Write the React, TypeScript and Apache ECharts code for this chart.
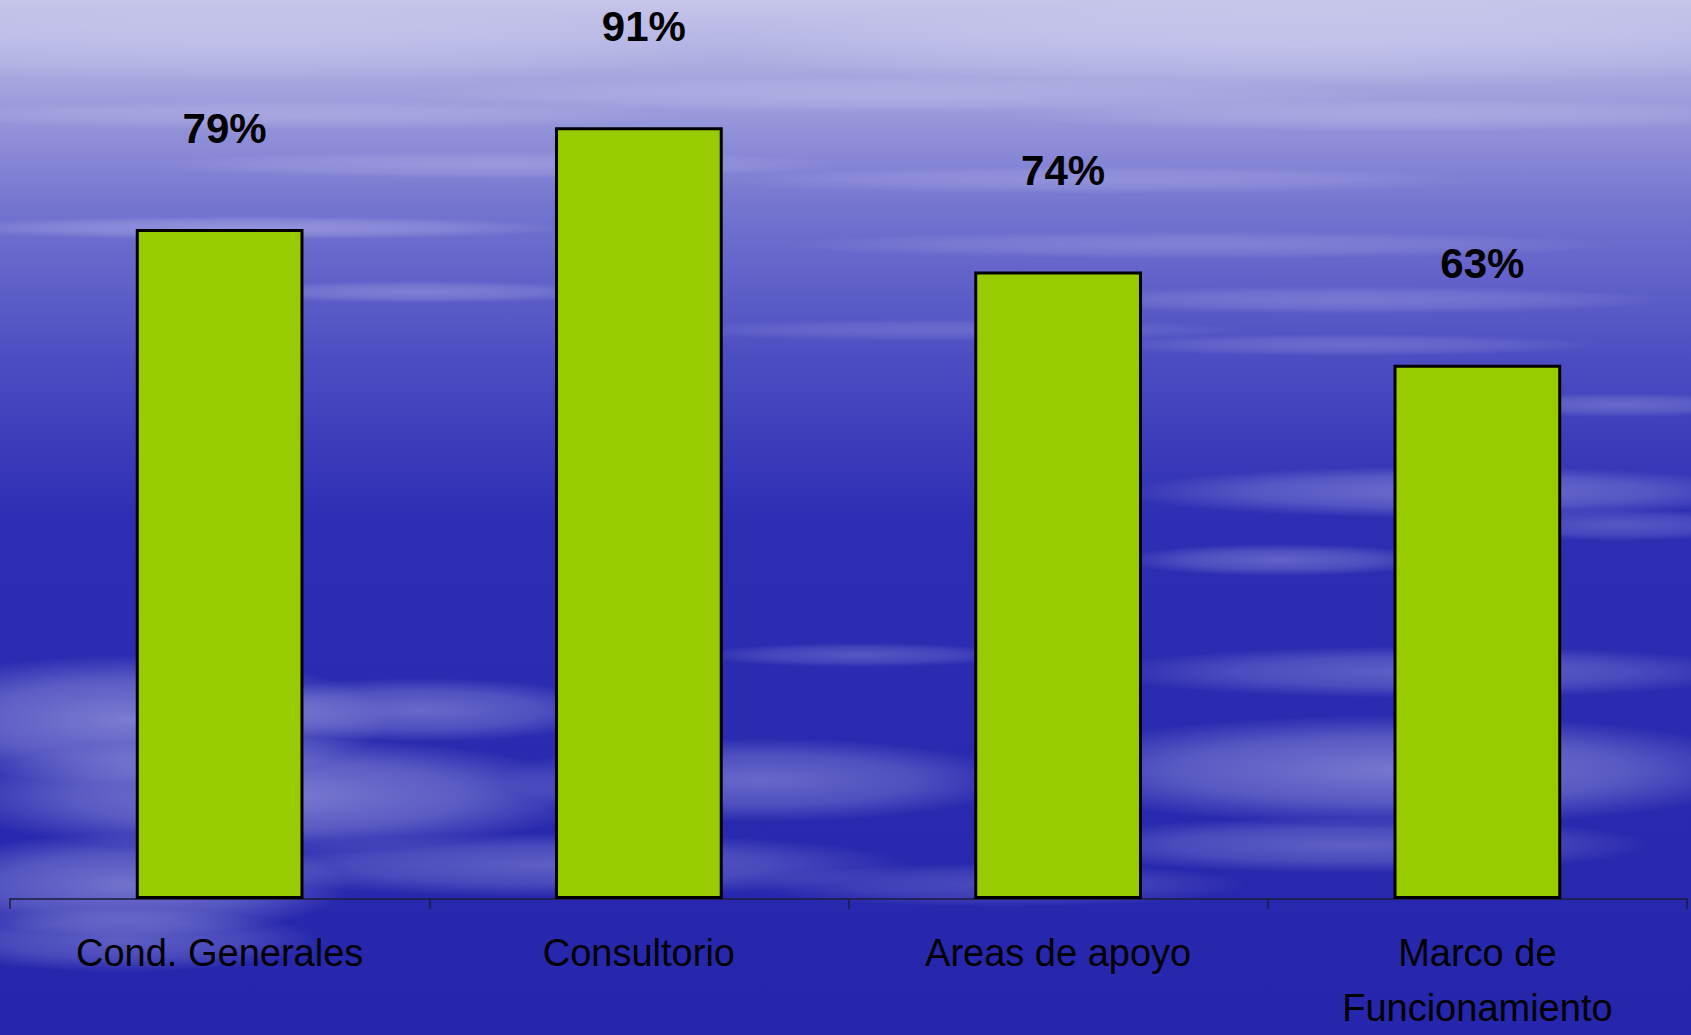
import React, { useEffect, useRef } from "react";
import * as echarts from "echarts";

const categories = ["Cond. Generales", "Consultorio", "Areas de apoyo", "Marco de\nFuncionamiento"];
const percentValues = [79, 91, 74, 63];
const yMin = 0;
const yMax = 100;

// decorative cloud streaks of the slide background: [cx, cy, rx, ry, alpha]
const cloudBlobs: number[][] = [
  [250, 45, 500, 40, 0.2],
  [1300, 45, 600, 45, 0.25],
  [900, 95, 500, 18, 0.2],
  [300, 115, 400, 14, 0.18],
  [1400, 115, 400, 16, 0.2],
  [500, 165, 350, 14, 0.2],
  [1100, 180, 380, 14, 0.18],
  [250, 228, 320, 12, 0.3],
  [1200, 245, 420, 14, 0.18],
  [420, 292, 200, 11, 0.24],
  [1350, 300, 320, 14, 0.2],
  [950, 330, 300, 11, 0.15],
  [1350, 345, 250, 11, 0.18],
  [1620, 405, 150, 12, 0.22],
  [1450, 492, 330, 26, 0.32],
  [1280, 560, 160, 16, 0.28],
  [1620, 525, 160, 16, 0.22],
  [860, 655, 160, 12, 0.22],
  [1430, 672, 330, 26, 0.28],
  [1400, 770, 380, 55, 0.4],
  [1350, 845, 300, 28, 0.28],
  [130, 720, 260, 65, 0.42],
  [420, 710, 200, 32, 0.32],
  [270, 795, 330, 58, 0.42],
  [760, 780, 260, 42, 0.32],
  [560, 865, 350, 32, 0.28],
  [130, 885, 220, 52, 0.38],
  [120, 940, 200, 32, 0.28],
  [1000, 885, 250, 22, 0.18],
];

export default function App() {
  const ref = useRef<HTMLDivElement>(null);

  useEffect(() => {
    if (!ref.current) return;
    const chart = echarts.init(ref.current, undefined, { renderer: "svg" });

    const blobs = cloudBlobs.map(([cx, cy, rx, ry, a]) => ({
      type: "ellipse",
      z: -10,
      silent: true,
      shape: { cx, cy, rx, ry },
      style: {
        fill: {
          type: "radial",
          x: 0.5,
          y: 0.5,
          r: 0.5,
          colorStops: [
            { offset: 0, color: `rgba(235,235,255,${a})` },
            { offset: 0.6, color: `rgba(235,235,255,${a * 0.6})` },
            { offset: 1, color: "rgba(235,235,255,0)" },
          ],
        },
      },
    }));

    chart.setOption({
      animation: false,
      backgroundColor: {
        type: "linear",
        x: 0,
        y: 0,
        x2: 0,
        y2: 1,
        colorStops: [
          { offset: 0, color: "#c6c6ea" },
          { offset: 0.08, color: "#a4a4de" },
          { offset: 0.2, color: "#7474d0" },
          { offset: 0.35, color: "#4c4cc2" },
          { offset: 0.5, color: "#2e2eb4" },
          { offset: 1, color: "#2626ac" },
        ],
      },
      graphic: { elements: blobs },
      grid: { left: 10, right: 4, top: 51, height: 855, containLabel: false },
      xAxis: {
        type: "category",
        data: categories,
        axisLine: { show: true, lineStyle: { color: "#1c1c3c", width: 1.5 } },
        axisTick: { show: true, length: 10, alignWithLabel: false, lineStyle: { color: "#1c1c3c", width: 1.5 } },
        axisLabel: {
          interval: 0,
          margin: 26,
          color: "#000",
          fontSize: 38,
          lineHeight: 55,
          fontFamily: "'Liberation Sans', Arial, sans-serif",
        },
      },
      yAxis: {
        type: "value",
        min: yMin,
        max: yMax,
        show: false,
        splitLine: { show: false },
      },
      series: [
        {
          type: "bar",
          data: percentValues,
          barWidth: "40%",
          itemStyle: { color: "#99cc00", borderColor: "#000", borderWidth: 3 },
          label: {
            show: true,
            position: "top",
            distance: 80,
            offset: [5, 0],
            formatter: "{c}%",
            color: "#000",
            fontSize: 42,
            fontWeight: "bold",
            fontFamily: "'Liberation Sans', Arial, sans-serif",
          },
        },
      ],
    });

    return () => chart.dispose();
  }, []);

  return (
    <div
      ref={ref}
      style={{ position: "absolute", left: 0, top: 0, width: 1691, height: 1035 }}
    />
  );
}
